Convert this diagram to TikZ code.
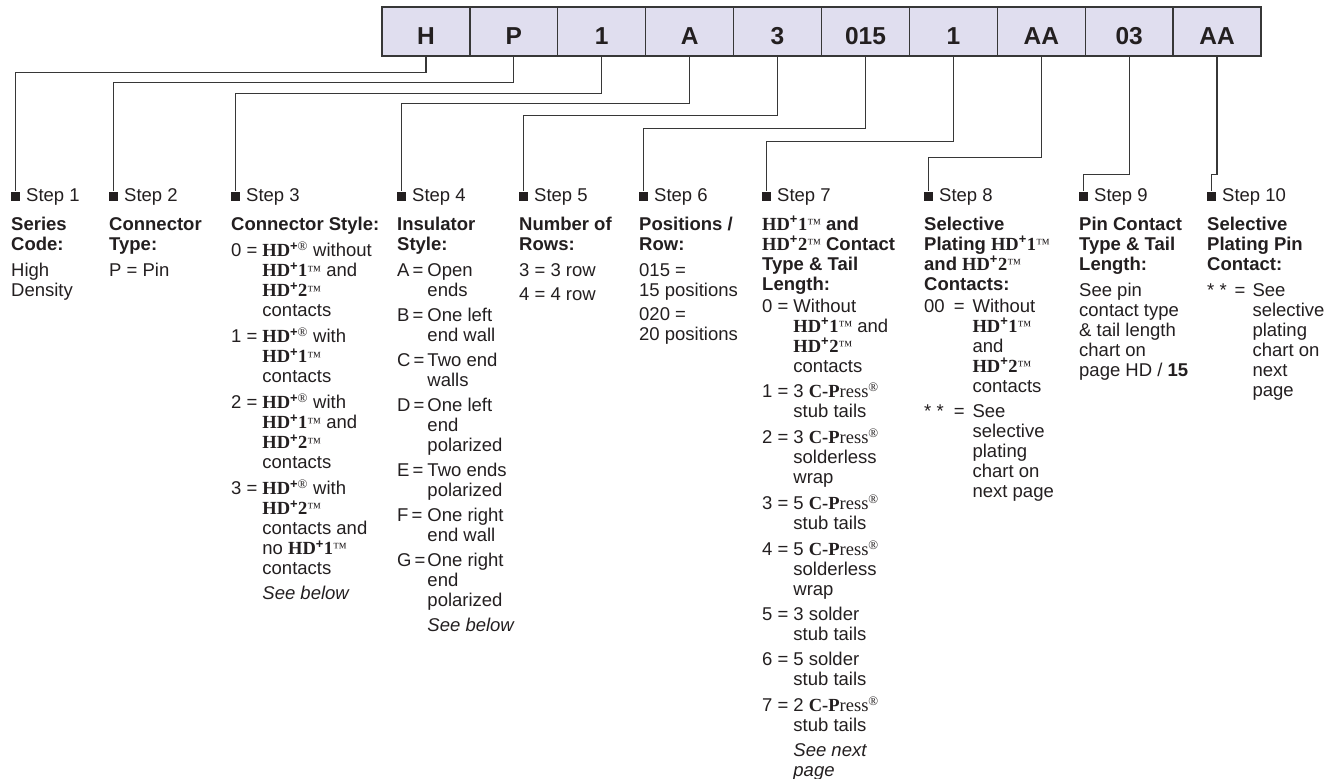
\documentclass[tikz,border=0pt]{standalone}
\usepackage{fontspec}
\setmainfont{Liberation Sans}
\newfontfamily\hdserif{Liberation Serif}
\definecolor{txt}{RGB}{35,31,32}
\definecolor{cellfill}{RGB}{224,222,239}
\definecolor{linec}{RGB}{55,55,55}
\newcommand\colfont{\fontsize{18.5}{20}\selectfont}
\newcommand\tmsign{\raisebox{1.6pt}{\hdserif\mdseries\fontsize{14}{14}\selectfont ™}}
\newcommand\HDreg{{\hdserif\bfseries HD}\textsuperscript{\bfseries+\hdserif\mdseries ®}}
\newcommand\HDone{{\hdserif\bfseries HD}\textsuperscript{\bfseries+}{\hdserif\bfseries 1}\tmsign}
\newcommand\HDtwo{{\hdserif\bfseries HD}\textsuperscript{\bfseries+}{\hdserif\bfseries 2}\tmsign}
\newcommand\CPress{{\hdserif\bfseries C-P}{\hdserif ress}\textsuperscript{\hdserif ®}}
\begin{document}
\begin{tikzpicture}[x=1pt,y=-1pt,
  cell/.style={draw=linec, line width=1.3pt, fill=cellfill, minimum width=87.9pt, minimum height=49pt,
    inner sep=0pt, text height=27pt, text depth=0pt, font=\fontsize{24.5}{26}\selectfont\bfseries, text=txt},
  conn/.style={draw=linec, line width=1.2pt},
  mk/.style={rectangle, fill=txt, minimum size=9pt, inner sep=0pt},
  steplab/.style={anchor=base west, inner sep=0pt, font=\colfont, text=txt},
  col/.style={anchor=base west, inner sep=0pt, font=\colfont, text=txt}]
\path[use as bounding box, fill=white] (0,0) rectangle (1342,779);

% code boxes
\node[cell] (c1)  at (425.95,31.5)  {H};
\node[cell] (c2)  at (513.85,31.5)  {P};
\node[cell] (c3)  at (601.75,31.5)  {1};
\node[cell] (c4)  at (689.65,31.5)  {A};
\node[cell] (c5)  at (777.55,31.5)  {3};
\node[cell] (c6)  at (865.45,31.5)  {015};
\node[cell] (c7)  at (953.35,31.5)  {1};
\node[cell] (c8)  at (1041.25,31.5) {AA};
\node[cell] (c9)  at (1129.15,31.5) {03};
\node[cell] (c10) at (1217.05,31.5) {AA};

% step markers
\node[mk] (m1)  at (15.5,196)   {};
\node[mk] (m2)  at (113.5,196)  {};
\node[mk] (m3)  at (235.5,196)  {};
\node[mk] (m4)  at (401.5,196)  {};
\node[mk] (m5)  at (523.5,196)  {};
\node[mk] (m6)  at (643.5,196)  {};
\node[mk] (m7)  at (766.5,196)  {};
\node[mk] (m8)  at (928.5,196)  {};
\node[mk] (m9)  at (1083.5,196) {};
\node[mk] (m10) at (1211.5,196) {};

\node[steplab] (s1)  at (26,201)   {Step 1};
\node[steplab] (s2)  at (124,201)  {Step 2};
\node[steplab] (s3)  at (246,201)  {Step 3};
\node[steplab] (s4)  at (412,201)  {Step 4};
\node[steplab] (s5)  at (534,201)  {Step 5};
\node[steplab] (s6)  at (654,201)  {Step 6};
\node[steplab] (s7)  at (777,201)  {Step 7};
\node[steplab] (s8)  at (939,201)  {Step 8};
\node[steplab] (s9)  at (1094,201) {Step 9};
\node[steplab] (s10) at (1222,201) {Step 10};

% connectors
\draw[conn] (c1.south)  -- ++(0,16)  -| (m1.north);
\draw[conn] (c2.south)  -- ++(0,26)  -| (m2.north);
\draw[conn] (c3.south)  -- ++(0,37)  -| (m3.north);
\draw[conn] (c4.south)  -- ++(0,47)  -| (m4.north);
\draw[conn] (c5.south)  -- ++(0,59)  -| (m5.north);
\draw[conn] (c6.south)  -- ++(0,72)  -| (m6.north);
\draw[conn] (c7.south)  -- ++(0,85)  -| (m7.north);
\draw[conn] (c8.south)  -- ++(0,101) -| (m8.north);
\draw[conn] (c9.south)  -- ++(0,118) -| (m9.north);
\draw[conn] (c10.south) -- ++(0,118) -| (m10.north);

% column texts
\node[col] (t1) at (11,230) {\begin{tabular}[t]{@{}l@{}}
\bfseries Series\\
\bfseries Code:\\[6pt]
High\\
Density
\end{tabular}};

\node[col] (t2) at (109,230) {\begin{tabular}[t]{@{}l@{}}
\bfseries Connector\\
\bfseries Type:\\[6pt]
P = Pin
\end{tabular}};

\node[col] (t3) at (231,230) {\begin{tabular}[t]{@{}l@{\hspace{5pt}}l@{}}
\multicolumn{2}{@{}l@{}}{\bfseries Connector Style:}\\[6pt]
0 = & \HDreg{} without\\
 & \HDone{} and\\
 & \HDtwo\\
 & contacts\\[5pt]
1 = & \HDreg{} with\\
 & \HDone\\
 & contacts\\[5pt]
2 = & \HDreg{} with\\
 & \HDone{} and\\
 & \HDtwo\\
 & contacts\\[5pt]
3 = & \HDreg{} with\\
 & \HDtwo\\
 & contacts and\\
 & no \HDone\\
 & contacts\\[5pt]
 & \itshape See below
\end{tabular}};

\node[col] (t4) at (397,230) {\begin{tabular}[t]{@{}l@{\hspace{2pt}}l@{}}
\multicolumn{2}{@{}l@{}}{\bfseries Insulator}\\
\multicolumn{2}{@{}l@{}}{\bfseries Style:}\\[6pt]
A\,= & Open\\
 & ends\\[5pt]
B\,= & One left\\
 & end wall\\[5pt]
C\,= & Two end\\
 & walls\\[5pt]
D\,= & One left\\
 & end\\
 & polarized\\[5pt]
E\,= & Two ends\\
 & polarized\\[5pt]
F\,= & One right\\
 & end wall\\[5pt]
G\,= & One right\\
 & end\\
 & polarized\\[5pt]
 & \itshape See below
\end{tabular}};

\node[col] (t5) at (519,230) {\begin{tabular}[t]{@{}l@{}}
\bfseries Number of\\
\bfseries Rows:\\[6pt]
3 = 3 row\\[4pt]
4 = 4 row
\end{tabular}};

\node[col] (t6) at (639,230) {\begin{tabular}[t]{@{}l@{}}
\bfseries Positions /\\
\bfseries Row:\\[6pt]
015 =\\
15 positions\\[4pt]
020 =\\
20 positions
\end{tabular}};

\node[col] (t7) at (762,230) {\begin{tabular}[t]{@{}l@{\hspace{5pt}}l@{}}
\multicolumn{2}{@{}l@{}}{\bfseries \HDone{} and}\\
\multicolumn{2}{@{}l@{}}{\bfseries \HDtwo{} Contact}\\
\multicolumn{2}{@{}l@{}}{\bfseries Type \& Tail}\\
\multicolumn{2}{@{}l@{}}{\bfseries Length:}\\[2pt]
0 = & Without\\
 & \HDone{} and\\
 & \HDtwo\\
 & contacts\\[5pt]
1 = & 3 \CPress\\
 & stub tails\\[5pt]
2 = & 3 \CPress\\
 & solderless\\
 & wrap\\[5pt]
3 = & 5 \CPress\\
 & stub tails\\[5pt]
4 = & 5 \CPress\\
 & solderless\\
 & wrap\\[5pt]
5 = & 3 solder\\
 & stub tails\\[5pt]
6 = & 5 solder\\
 & stub tails\\[5pt]
7 = & 2 \CPress\\
 & stub tails\\[5pt]
 & \itshape See next\\
 & \itshape page
\end{tabular}};

\node[col] (t8) at (924,230) {\begin{tabular}[t]{@{}l@{\hspace{9pt}}l@{\hspace{8pt}}l@{}}
\multicolumn{3}{@{}l@{}}{\bfseries Selective}\\
\multicolumn{3}{@{}l@{}}{\bfseries Plating \HDone}\\
\multicolumn{3}{@{}l@{}}{\bfseries and \HDtwo}\\
\multicolumn{3}{@{}l@{}}{\bfseries Contacts:}\\[2pt]
00 & = & Without\\
 & & \HDone\\
 & & and\\
 & & \HDtwo\\
 & & contacts\\[5pt]
* * & = & See\\
 & & selective\\
 & & plating\\
 & & chart on\\
 & & next page
\end{tabular}};

\node[col] (t9) at (1079,230) {\begin{tabular}[t]{@{}l@{}}
\bfseries Pin Contact\\
\bfseries Type \& Tail\\
\bfseries Length:\\[6pt]
See pin\\
contact type\\
\& tail length\\
chart on\\
page HD / \textbf{15}
\end{tabular}};

\node[col] (t10) at (1207,230) {\begin{tabular}[t]{@{}l@{\hspace{8pt}}l@{\hspace{7pt}}l@{}}
\multicolumn{3}{@{}l@{}}{\bfseries Selective}\\
\multicolumn{3}{@{}l@{}}{\bfseries Plating Pin}\\
\multicolumn{3}{@{}l@{}}{\bfseries Contact:}\\[6pt]
* * & = & See\\
 & & selective\\
 & & plating\\
 & & chart on\\
 & & next\\
 & & page
\end{tabular}};
\end{tikzpicture}
\end{document}
